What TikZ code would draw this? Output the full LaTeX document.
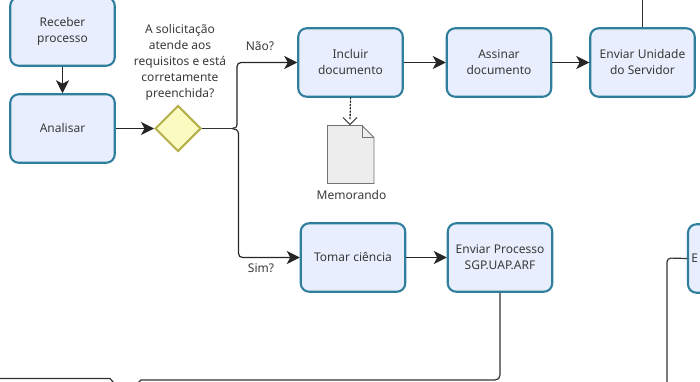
\documentclass[tikz,border=0pt]{standalone}
\usepackage{fontspec}
\setmainfont{Noto Sans}
\usetikzlibrary{arrows.meta,shapes.geometric}
\definecolor{boxline}{HTML}{2F7F9C}
\definecolor{boxfill}{HTML}{E8EEFD}
\definecolor{txt}{HTML}{3A3A3A}
\definecolor{gateline}{HTML}{B5B04A}
\definecolor{gatefill}{HTML}{FBFAC0}
\newcommand{\liftup}[1]{\raisebox{1.5pt}{#1}}
\tikzset{
  task/.style={draw=boxline,fill=boxfill,line width=2.1pt,rounded corners=8.5pt,minimum width=104.5pt,minimum height=68.5pt,align=center,text=txt,font=\fontsize{12}{16}\selectfont,inner sep=0pt,outer sep=1pt},
  gate/.style={diamond,draw=gateline,fill=gatefill,line width=2pt,minimum width=46pt,minimum height=46pt,inner sep=0pt,outer sep=1pt},
  lbl/.style={text=txt,font=\fontsize{12}{16}\selectfont,align=center,inner sep=0pt},
  flow/.style={draw=black!85,line width=1.2pt,-{Stealth[length=13pt,width=13pt,inset=3.5pt]}},
  plain/.style={draw=black!80,line width=1.2pt,rounded corners=4pt},
  branch/.style={draw=black!80,line width=1.2pt},
  assoc/.style={draw=black!85,line width=1.3pt,dotted,line cap=round},
  docshape/.style={draw=black!55,fill=black!7,line width=0.9pt}
}
\begin{document}
\begin{tikzpicture}[x=1pt,y=-1pt]
\useasboundingbox (0,0) rectangle (700,382);
\clip (0,0) rectangle (700,382);
\node[task] (rec) at (62.5,31.5) {Receber\\processo};
\node[task] (ana) at (62.5,128.5) {\liftup{Analisar}};
\node[gate] (gw) at (178,128.5) {};
\node[task] (inc) at (350.5,62.5) {\liftup{Incluir}\\\liftup{documento}};
\node[task] (ass) at (499,62.5) {\liftup{Assinar}\\\liftup{documento}};
\node[task] (env) at (642.5,62.5) {\liftup{Enviar Unidade}\\\liftup{do Servidor}};
\node[task] (tom) at (353,257.5) {\liftup{Tomar ciência}};
\node[task] (sgp) at (500,257.5) {\liftup{Enviar Processo}\\\liftup{SGP.UAP.ARF}};
\node[task,anchor=west,text width=104pt,align=left] (rgt) at (687,258.5) {\hspace{3pt}\liftup{E}};
% question and labels
\node[lbl] (q) at (180,62.5) {A solicitação\\atende aos\\requisitos e está\\corretamente\\preenchida?};
\node[lbl] (nao) at (260,46) {Não?};
\node[lbl] (sim) at (261,268.5) {Sim?};
\node[lbl] (mem) at (351.5,195) {Memorando};
% document
\draw[docshape] (327.5,125.5) -- (362,125.5) -- (374,137.5) -- (374,183.5) -- (327.5,183.5) -- cycle;
\draw[docshape,fill=none] (362,125.5) -- (362,137.5) -- (374,137.5);
\coordinate (split) at (232,128.5);
% flows
\draw[flow] (rec.south) -- (ana.north);
\draw[flow] (ana.east) -- (gw.west);
\draw[branch] (gw.east) -- (split);
\draw[branch] (split) .. controls (235,128.5) and (237,127.5) .. (237,124);
\draw[branch] (split) .. controls (235,128.5) and (238.5,130) .. (238.5,134);
\draw[flow,rounded corners=4pt] (237,124.5) -- (237,62.5) -- (inc.west);
\draw[flow,rounded corners=4pt] (238.5,133.5) -- (238.5,257.5) -- (tom.west);
\draw[flow] (inc.east) -- (ass.west);
\draw[flow] (ass.east) -- (env.west);
\draw[flow] (tom.east) -- (sgp.west);
\draw[assoc] (inc.south) -- (350,120);
\draw[draw=black!85,line width=0.9pt] (343,117.5) -- (350,124.5) -- (357,117.5);
\draw[plain] (env.north) -- (642.5,0);
\draw[branch] (sgp.south) -- (500,375) .. controls (500,378) and (498,380) .. (495,380) -- (141,380) -- (138,383);
\draw[branch] (0,378.5) -- (110,378.5) -- (114,383);
\draw[plain] (rgt.west) -- (667,258) -- (667,382);
\end{tikzpicture}
\end{document}
